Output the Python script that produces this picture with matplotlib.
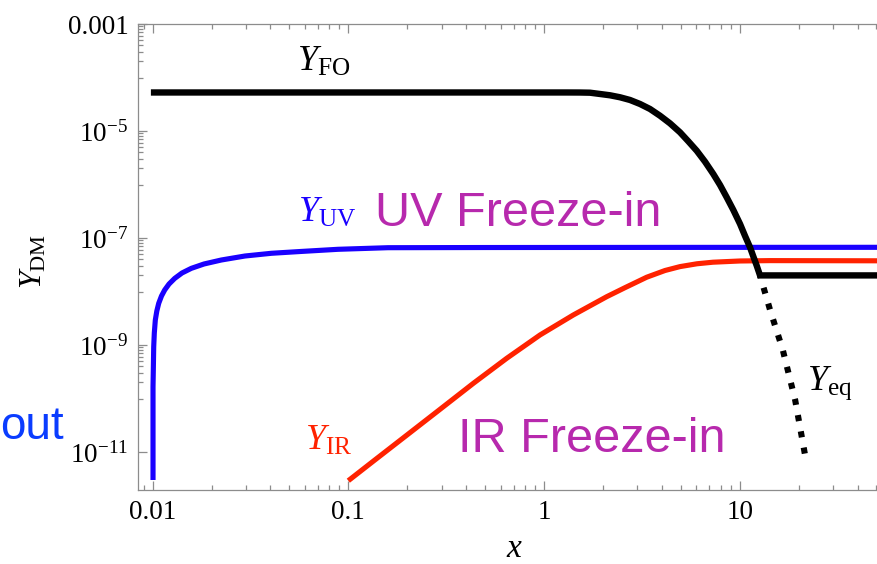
import matplotlib
matplotlib.use("Agg")
import matplotlib.pyplot as plt
from matplotlib.ticker import FixedLocator, FixedFormatter, NullFormatter

plt.rcParams['mathtext.fontset'] = 'custom'
plt.rcParams['mathtext.rm'] = 'Liberation Serif'
plt.rcParams['mathtext.it'] = 'Liberation Serif:italic'
plt.rcParams['mathtext.bf'] = 'Liberation Serif:bold'
plt.rcParams['font.family'] = ['Liberation Serif', 'DejaVu Serif']

# ---------------- data ----------------
# Y_FO (freeze-out, black solid)
fo_x = [0.0098, 0.5, 1.3, 1.527, 1.718, 1.932, 2.175, 2.446, 2.751, 3.094,
        3.480, 3.915, 4.404, 4.953, 5.462, 6.030, 6.648, 7.330, 7.933,
        8.581, 9.276, 10.04, 10.64, 11.29, 11.73, 12.22, 12.70, 50.3]
fo_y = [5.25e-5, 5.25e-5, 5.25e-5, 5.24e-5, 5.2e-5, 4.92e-5, 4.65e-5,
        4.27e-5, 3.80e-5, 3.20e-5, 2.58e-5, 1.93e-5, 1.39e-5, 9.46e-6,
        6.42e-6, 4.28e-6, 2.67e-6, 1.57e-6, 9.79e-7, 5.76e-7, 3.34e-7,
        1.83e-7, 1.10e-7, 6.70e-8, 4.55e-8, 3.03e-8, 2.0e-8, 2.0e-8]

# Y_eq (equilibrium, black dotted)
eq_x = [12.70, 14.3, 16.6, 19.2, 21.8]
eq_y = [2.0e-8, 4.5e-9, 8.1e-10, 9.4e-11, 7.1e-12]

# Y_UV (UV freeze-in, blue)
uv_x = [0.010047, 0.010047, 0.010083, 0.010130, 0.010202, 0.010323,
        0.010507, 0.010745, 0.011101, 0.011531, 0.012129, 0.012970,
        0.014132, 0.015765, 0.018311, 0.022440, 0.029661, 0.040429,
        0.056637, 0.088586, 0.15950, 0.5, 5.0, 50.3]
uv_y = [3.0e-12, 1.66e-10, 3.41e-10, 9.29e-10, 1.68e-9, 2.93e-9, 4.32e-9,
        6.02e-9, 8.24e-9, 1.07e-8, 1.38e-8, 1.76e-8, 2.22e-8, 2.71e-8,
        3.27e-8, 3.88e-8, 4.61e-8, 5.18e-8, 5.59e-8, 6.15e-8, 6.59e-8,
        6.64e-8, 6.68e-8, 6.7e-8]

# Y_IR (IR freeze-in, red)
ir_x = [0.1000, 0.1341, 0.1988, 0.2942, 0.4352, 0.6447, 0.9540, 1.4113,
        2.0912, 2.5933, 3.3483, 4.1527, 4.9539, 6.0513, 7.3038, 10.035,
        14.287, 50.3]
ir_y = [2.91e-12, 6.73e-12, 2.06e-11, 6.28e-11, 1.92e-10, 5.64e-10, 1.54e-9,
        3.64e-9, 8.0e-9, 1.18e-8, 1.85e-8, 2.47e-8, 2.92e-8, 3.30e-8,
        3.53e-8, 3.72e-8, 3.78e-8, 3.75e-8]

xticks = [0.01, 0.1, 1, 10]
xtick_labels = ['0.01', '0.1', '1', '10']
yticks = [1e-3, 1e-5, 1e-7, 1e-9, 1e-11]
ytick_labels = ['0.001', r'$10^{-5}$', r'$10^{-7}$', r'$10^{-9}$', r'$10^{-11}$']
x_minor = [m * 10.0 ** k for k in (-3, -2, -1, 0, 1) for m in range(2, 10)]
y_minor = [m * 10.0 ** k for k in (-4, -6, -8, -10) for m in range(1, 10)]

# ---------------- figure ----------------
W, H = 877, 564
fig = plt.figure(figsize=(W / 100, H / 100), dpi=100)
ax = fig.add_axes([138 / W, (H - 490) / H, (W - 138) / W, (490 - 24) / H])
ax.set_xscale('log')
ax.set_yscale('log')
ax.set_xlim(0.00842, 50.3)
ax.set_ylim(1.95e-12, 1e-3)

BLUE = '#1a00ff'
RED = '#ff2200'
MAG = '#b729ad'

ax.plot(uv_x, uv_y, color=BLUE, lw=3.7, solid_capstyle='butt', zorder=3)
ax.plot(ir_x, ir_y, color=RED, lw=3.7, solid_capstyle='butt', zorder=3)
ax.plot(fo_x, fo_y, color='black', lw=4.6, solid_capstyle='butt',
        solid_joinstyle='miter', zorder=4)
ax.plot(eq_x, eq_y, color='black', lw=4.4, linestyle=(0.6, (1.0, 1.7)),
        dash_capstyle='butt', zorder=4)

# ticks
ax.xaxis.set_major_locator(FixedLocator(xticks))
ax.xaxis.set_major_formatter(FixedFormatter(xtick_labels))
ax.xaxis.set_minor_locator(FixedLocator(x_minor))
ax.xaxis.set_minor_formatter(NullFormatter())
ax.yaxis.set_major_locator(FixedLocator(yticks))
ax.yaxis.set_major_formatter(FixedFormatter(ytick_labels))
ax.yaxis.set_minor_locator(FixedLocator(y_minor))
ax.yaxis.set_minor_formatter(NullFormatter())

GRAY = '#8c8c8c'
ax.tick_params(axis='both', which='both', direction='in', colors=GRAY,
               labelcolor='black', width=0.9)
ax.tick_params(axis='both', which='major', length=6.5, labelsize=19.5)
ax.tick_params(axis='both', which='minor', length=3.6)
ax.tick_params(axis='x', which='both', top=True, bottom=True, pad=7)
ax.tick_params(axis='y', which='both', left=True, right=False, pad=7)
for side in ('left', 'bottom', 'top'):
    ax.spines[side].set_color(GRAY)
    ax.spines[side].set_linewidth(0.9)
ax.spines['right'].set_visible(False)

ax.set_xlabel(r'$x$', fontsize=24, va='center')
ax.xaxis.set_label_coords(0.510, -0.127)
ax.set_ylabel(r'$Y_{\mathrm{DM}}$', fontsize=23)
ax.yaxis.set_label_coords(-0.121, 0.491)

# annotations
ax.text(0.0547, 1.32e-4, r'$Y_{\mathrm{FO}}$', fontsize=26, color='black',
        ha='left', va='baseline')
ax.text(0.0553, 1.99e-7, r'$Y_{\mathrm{UV}}$', fontsize=26, color=BLUE,
        ha='left', va='baseline')
ax.text(0.137, 1.68e-7, 'UV Freeze-in', fontsize=35, color=MAG,
        family='Liberation Sans', ha='left', va='baseline')
ax.text(0.0601, 1.09e-11, r'$Y_{\mathrm{IR}}$', fontsize=26, color=RED,
        ha='left', va='baseline')
ax.text(0.3635, 1.0e-11, 'IR Freeze-in', fontsize=35, color=MAG,
        family='Liberation Sans', ha='left', va='baseline')
ax.text(22.1, 1.44e-10, r'$Y_{\mathrm{eq}}$', fontsize=26, color='black',
        ha='left', va='baseline')
ax.text(0.003527, 1.75e-11, 'out', fontsize=33, color='#0a3cff',
        family='Liberation Sans', ha='right', va='baseline')

fig.savefig('out.png', dpi=100)
